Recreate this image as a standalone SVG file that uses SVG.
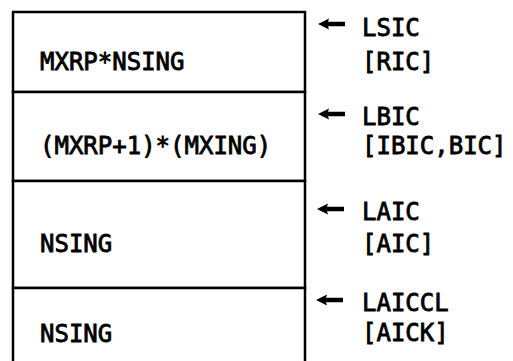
<svg xmlns="http://www.w3.org/2000/svg" width="513" height="361" viewBox="0 0 513 361">
<style>
  text { font-family: "DejaVu Sans Mono", "Liberation Mono", monospace; font-size: 24px; font-weight: normal; fill: #000; stroke: #000; stroke-width: 0.8; }
  .box { fill: #fff; stroke: #000; stroke-width: 2.5; }
  .arrow { fill: #000; stroke: none; }
</style>
<defs>
  <path id="arr" class="arrow" d="M0,0 L11,-5.5 L10,-2.2 L27,-2.2 L27,2.2 L10,2.2 L11,5.5 Z"/>
</defs>
<rect width="513" height="361" fill="#fff"/>
<g id="seg1">
  <rect class="box" x="13" y="12" width="292" height="80"/>
  <text x="40" y="70">MXRP*NSING</text>
</g>
<g id="seg2">
  <rect class="box" x="13" y="92" width="292" height="89"/>
  <text x="40" y="154">(MXRP+1)*(MXING)</text>
</g>
<g id="seg3">
  <rect class="box" x="13" y="181" width="292" height="107"/>
  <text x="40" y="252">NSING</text>
</g>
<g id="seg4">
  <rect class="box" x="13" y="288" width="292" height="90"/>
  <text x="40" y="342">NSING</text>
</g>
<g id="label1">
  <text x="362" y="36">LSIC</text>
  <text x="362" y="70">[RIC]</text>
</g>
<g id="label2">
  <text x="362" y="125">LBIC</text>
  <text x="362" y="154">[IBIC,BIC]</text>
</g>
<g id="label3">
  <text x="362" y="220">LAIC</text>
  <text x="362" y="252">[AIC]</text>
</g>
<g id="label4">
  <text x="362" y="311">LAICCL</text>
  <text x="362" y="341">[AICK]</text>
</g>
<g id="connectors">
  <use href="#arr" x="318" y="24"/>
  <use href="#arr" x="318" y="114"/>
  <use href="#arr" x="317" y="209"/>
  <use href="#arr" x="316" y="300"/>
</g>
</svg>
